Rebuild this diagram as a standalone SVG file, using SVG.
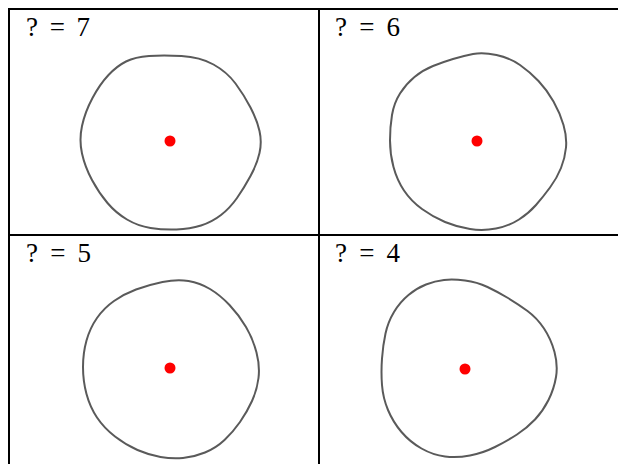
<svg xmlns="http://www.w3.org/2000/svg" width="618" height="464" viewBox="0 0 618 464">
<style>
.grid{stroke:#000;stroke-width:2;fill:none}
.curve{fill:none;stroke:#5a5a5a;stroke-width:2;stroke-linejoin:round}
.dot{fill:#ff0000}
.lbl{font-family:"Liberation Serif","Times New Roman",serif;font-size:27px;fill:#000}
</style>
<rect width="618" height="464" fill="#fff"/>
<g id="grid">
<line class="grid" x1="9" y1="9" x2="618" y2="9"/>
<line class="grid" x1="9" y1="8" x2="9" y2="464"/>
<line class="grid" x1="319" y1="8" x2="319" y2="464"/>
<line class="grid" x1="9" y1="235" x2="618" y2="235"/>
</g>
<g id="cell7">
<text class="lbl" x="26" y="36" textLength="64" lengthAdjust="spacing">? = 7</text>
<path class="curve" d="M149,56 Q163,55 181.5,56 T213.5,64.5 T235.5,83.5 T250.5,107.5 T259.5,131 T259.5,153 T250.5,176 T237,198 T221,215 T201,225.5 T176.5,229.5 T150.5,228 T127,219.5 T107.5,203 T92,180 T82,153.5 T82,126 T92.5,98 T108.5,75 T126,61.5 T149,56 Z"/>
<circle class="dot" cx="170" cy="141" r="5.5"/>
</g>
<g id="cell6">
<text class="lbl" x="335" y="36" textLength="65" lengthAdjust="spacing">? = 6</text>
<path class="curve" d="M473,54 Q483,52 496.5,55 T520,65 T538.5,81 T553.5,101.5 T563.5,125 T566,147.5 T561,168 T550,187.5 T536,205 T519,219.5 T496,228.5 T470,229 T445,222 T422,209 T404,190.5 T393.5,167 T390,140.5 T392,115 T400,93.5 T414.5,77 T433,66 T453,59 T473,54 Z"/>
<circle class="dot" cx="477" cy="141" r="5.5"/>
</g>
<g id="cell5">
<text class="lbl" x="26" y="262" textLength="65" lengthAdjust="spacing">? = 5</text>
<path class="curve" d="M162.5,282 Q177,279 188.5,281 T210,289 T229.5,305 T246,327 T256.5,352.5 T258.5,378 T252,401 T240,422 T224.5,440 T205,452.5 T183,458 T160.5,457 T137.5,450 T115,436.5 T97,417.5 T86.5,394 T83,367 T86.5,340.5 T97,318 T114,301 T136,289.5 T162.5,282 Z"/>
<circle class="dot" cx="170" cy="368" r="5.5"/>
</g>
<g id="cell4">
<text class="lbl" x="335" y="262" textLength="65" lengthAdjust="spacing">? = 4</text>
<path class="curve" d="M444,280 Q453,279 465,280.5 T487.5,287 T508,298 T527.5,311 T544,328.5 T554.5,352 T556,377 T548.5,400 T535,419.5 T517,434.5 T495,447 T470,455.5 T445,456.5 T421.5,448.5 T401.5,432 T388,410 T382,385 T382,358.5 T385.5,333.5 T394,312 T408.5,295 T426,284.5 T444,280 Z"/>
<circle class="dot" cx="465" cy="369" r="5.5"/>
</g>
</svg>
